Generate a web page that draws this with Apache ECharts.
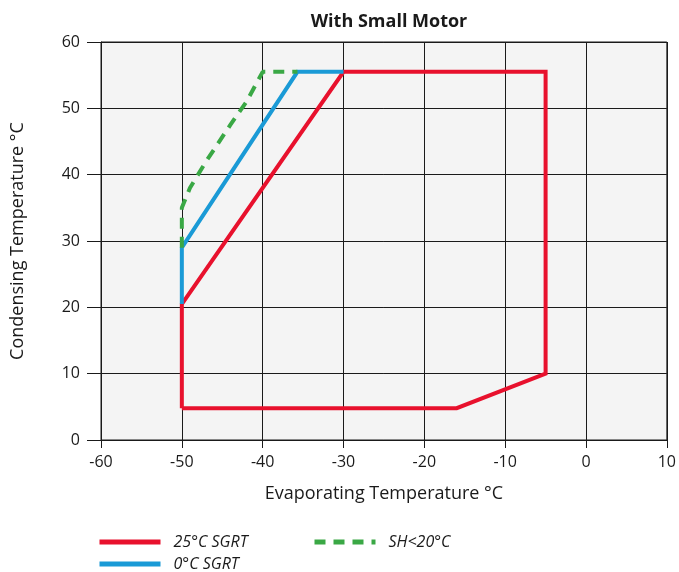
<!DOCTYPE html>
<html>
<head>
<meta charset="utf-8">
<title>With Small Motor</title>
<script src="https://cdn.jsdelivr.net/npm/echarts@6/dist/echarts.min.js"></script>
<style>
  html, body { margin: 0; padding: 0; background: #ffffff; }
  #chart { width: 679px; height: 572px; }
</style>
</head>
<body>
<div id="chart"></div>
<script>
// Axis ticks
const xTicks = [-60, -50, -40, -30, -20, -10, 0, 10];
const yTicks = [0, 10, 20, 30, 40, 50, 60];

// Envelope outlines: [evaporating °C, condensing °C]
const sgrt25 = [[-50, 4.8], [-50, 20.5], [-30, 55.5], [-5, 55.5], [-5, 10], [-16, 4.8], [-50, 4.8]];
const sgrt0 = [[-50, 20.5], [-50, 29], [-35.7, 55.5], [-30, 55.5]];
const sh20 = [[-50, 29], [-50, 35], [-49, 38], [-47, 42], [-44, 47.5], [-42, 51], [-40, 55.5], [-35.7, 55.5]];

const seriesNames = ['25°C SGRT', '0°C SGRT', 'SH<20°C'];
const seriesColors = ['#e8112d', '#1a9ad6', '#3aa845'];

const FONT = '"Open Sans", sans-serif';
const INK = '#1a1a1a';

const chart = echarts.init(document.getElementById('chart'), null, { renderer: 'canvas' });

function legendFor(name, left, top) {
  return {
    data: [name],
    left: left,
    top: top,
    orient: 'horizontal',
    itemWidth: 61,
    itemHeight: 14,
    itemGap: 0,
    padding: 0,
    selectedMode: false,
    itemStyle: { opacity: 0 },
    lineStyle: { width: 5 },
    textStyle: { fontFamily: FONT, fontSize: 16, fontStyle: 'italic', color: INK, padding: [0, 0, 0, 8] }
  };
}

chart.setOption({
  animation: false,
  backgroundColor: '#ffffff',
  title: {
    text: 'With Small Motor',
    left: 384,
    textAlign: 'center',
    top: 8,
    textStyle: { fontFamily: FONT, fontSize: 18, fontWeight: 'bold', color: INK }
  },
  legend: [
    legendFor(seriesNames[0], 97, 534),
    legendFor(seriesNames[1], 97, 556),
    legendFor(seriesNames[2], 312, 534)
  ],
  grid: {
    left: 101, right: 12, top: 42, bottom: 132,
    show: true,
    backgroundColor: '#f4f4f4',
    borderColor: INK,
    borderWidth: 1
  },
  xAxis: {
    type: 'value',
    min: xTicks[0],
    max: xTicks[xTicks.length - 1],
    interval: 10,
    name: 'Evaporating Temperature °C',
    nameLocation: 'middle',
    nameGap: 45,
    nameTextStyle: { fontFamily: FONT, fontSize: 18, color: INK },
    axisLine: { show: true, onZero: false, lineStyle: { color: INK, width: 1 } },
    axisTick: { show: true, length: 8, lineStyle: { color: INK } },
    axisLabel: { fontFamily: FONT, fontSize: 16, color: INK, margin: 14 },
    splitLine: { show: true, lineStyle: { color: INK, width: 1 } }
  },
  yAxis: {
    type: 'value',
    min: yTicks[0],
    max: yTicks[yTicks.length - 1],
    interval: 10,
    name: 'Condensing Temperature °C',
    nameLocation: 'middle',
    nameGap: 74,
    nameTextStyle: { fontFamily: FONT, fontSize: 18, color: INK },
    axisLine: { show: true, onZero: false, lineStyle: { color: INK, width: 1 } },
    axisTick: { show: true, length: 14, lineStyle: { color: INK } },
    axisLabel: { fontFamily: FONT, fontSize: 16, color: INK, margin: 21 },
    splitLine: { show: true, lineStyle: { color: INK, width: 1 } }
  },
  series: [
    {
      name: seriesNames[0], type: 'line', data: sgrt25, symbol: 'none', z: 3,
      lineStyle: { color: seriesColors[0], width: 4, join: 'miter' },
      itemStyle: { color: seriesColors[0] }
    },
    {
      name: seriesNames[1], type: 'line', data: sgrt0, symbol: 'none', z: 4,
      lineStyle: { color: seriesColors[1], width: 4, join: 'miter' },
      itemStyle: { color: seriesColors[1] }
    },
    {
      name: seriesNames[2], type: 'line', data: sh20, symbol: 'none', z: 5,
      lineStyle: { color: seriesColors[2], width: 4, type: [11, 8] },
      itemStyle: { color: seriesColors[2] }
    }
  ]
});
</script>
</body>
</html>
